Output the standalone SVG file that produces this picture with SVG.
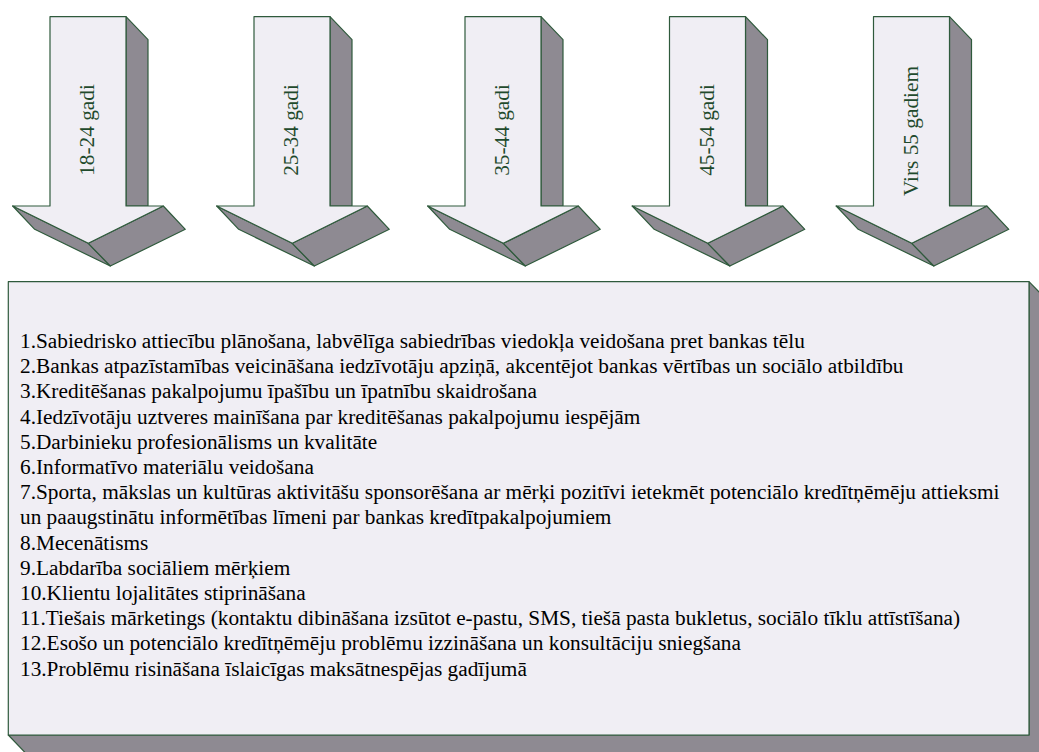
<svg xmlns="http://www.w3.org/2000/svg" width="1039" height="752" viewBox="0 0 1039 752">
<style>
.front{fill:#f0eef4;stroke:#2f5a3c;stroke-width:1.2;stroke-linejoin:round}
.side{fill:#8e8a92;stroke:#2f5a3c;stroke-width:1.2;stroke-linejoin:round}
.lbl{font-family:"Liberation Serif","Times New Roman",serif;font-size:21.3px;fill:#1f4a2c;text-anchor:middle}
.txt{font-family:"Liberation Serif","Times New Roman",serif;font-size:21.3px;fill:#000}
</style>
<defs>
<g id="arrow">
<polygon class="side" points="76,0 98,23 98,189.3 76,189.3"/>
<polygon class="side" points="-37.3,189.3 -15.3,212.6 60.3,249.3 38.3,226.6"/>
<polygon class="side" points="113.3,189.3 135.3,212.6 60.3,249.3 38.3,226.6"/>
<polygon class="front" points="0,0 76,0 76,189.3 113.3,189.3 38.3,226.6 -37.3,189.3 0,189.3"/>
</g>
</defs>
<g id="connectors"/>
<g id="arrow1">
<use href="#arrow" x="50" y="16.7"/>
<text class="lbl" transform="translate(94,130) rotate(-90)">18-24 gadi</text>
</g>
<g id="arrow2">
<use href="#arrow" x="254" y="16.7"/>
<text class="lbl" transform="translate(298,130) rotate(-90)">25-34 gadi</text>
</g>
<g id="arrow3">
<use href="#arrow" x="465" y="16.7"/>
<text class="lbl" transform="translate(509,130) rotate(-90)">35-44 gadi</text>
</g>
<g id="arrow4">
<use href="#arrow" x="669.5" y="16.7"/>
<text class="lbl" transform="translate(713.5,130) rotate(-90)">45-54 gadi</text>
</g>
<g id="arrow5">
<use href="#arrow" x="873.5" y="16.7"/>
<text class="lbl" transform="translate(917.5,131) rotate(-90)">Virs 55 gadiem</text>
</g>
<g id="box">
<polygon class="side" points="8.3,735 30.3,758 1051,758 1051,304 1029,281.7 1029,735"/>
<rect class="front" x="8.3" y="281.7" width="1020.7" height="453.3"/>
<text class="txt" x="20" y="348">1.Sabiedrisko attiecību plānošana, labvēlīga sabiedrības viedokļa veidošana pret bankas tēlu</text>
<text class="txt" x="20" y="373.2">2.Bankas atpazīstamības veicināšana iedzīvotāju apziņā, akcentējot bankas vērtības un sociālo atbildību</text>
<text class="txt" x="20" y="398.4">3.Kreditēšanas pakalpojumu īpašību un īpatnību skaidrošana</text>
<text class="txt" x="20" y="423.6">4.Iedzīvotāju uztveres mainīšana par kreditēšanas pakalpojumu iespējām</text>
<text class="txt" x="20" y="448.8">5.Darbinieku profesionālisms un kvalitāte</text>
<text class="txt" x="20" y="474">6.Informatīvo materiālu veidošana</text>
<text class="txt" x="20" y="499.2">7.Sporta, mākslas un kultūras aktivitāšu sponsorēšana ar mērķi pozitīvi ietekmēt potenciālo kredītņēmēju attieksmi</text>
<text class="txt" x="20" y="524.4">un paaugstinātu informētības līmeni par bankas kredītpakalpojumiem</text>
<text class="txt" x="20" y="549.6">8.Mecenātisms</text>
<text class="txt" x="20" y="574.8">9.Labdarība sociāliem mērķiem</text>
<text class="txt" x="20" y="600">10.Klientu lojalitātes stiprināšana</text>
<text class="txt" x="20" y="625.2">11.Tiešais mārketings (kontaktu dibināšana izsūtot e-pastu, SMS, tiešā pasta bukletus, sociālo tīklu attīstīšana)</text>
<text class="txt" x="20" y="650.4">12.Esošo un potenciālo kredītņēmēju problēmu izzināšana un konsultāciju sniegšana</text>
<text class="txt" x="20" y="675.6">13.Problēmu risināšana īslaicīgas maksātnespējas gadījumā</text>
</g>
</svg>
